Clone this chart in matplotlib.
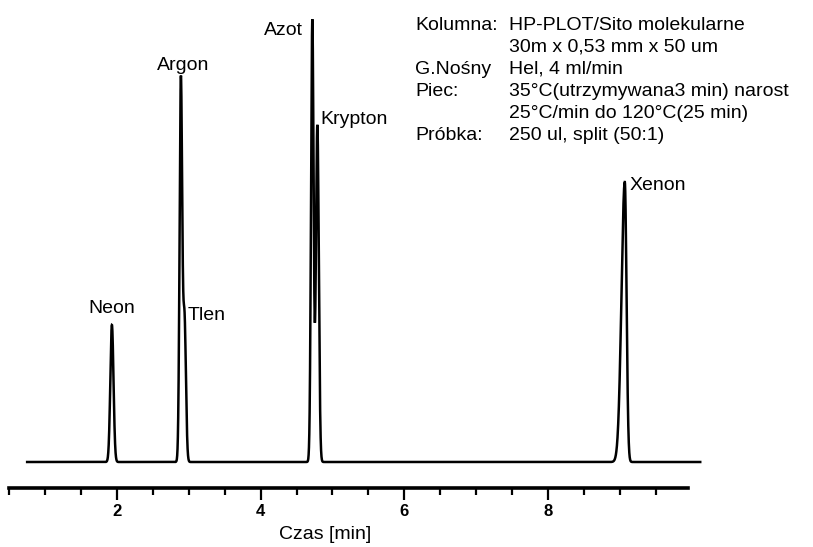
import numpy as np
import matplotlib
matplotlib.use("Agg")
import matplotlib.pyplot as plt
from matplotlib.ticker import FixedLocator

plt.rcParams["font.family"] = ["Liberation Sans", "DejaVu Sans"]

# Peaks (time in min, height in px above baseline)
peak_names = ["Neon", "Argon", "Tlen", "Azot", "Krypton", "Xenon"]
peak_times = [1.93, 2.89, 2.94, 4.72, 4.79, 9.07]
peak_heights = [137, 380, 144, 442, 337, 280]
peak_sigma_left = [0.022, 0.018, 0.02, 0.018, 0.020, 0.046]
peak_sigma_right = [0.022, 0.018, 0.02, 0.018, 0.020, 0.024]

run_start, run_end = 0.75, 10.12
major_ticks = [2, 4, 6, 8]
minor_ticks = [0.5, 1, 1.5, 2.5, 3, 3.5, 4.5, 5, 5.5, 6.5, 7, 7.5, 8.5, 9, 9.5]

info_keys = ["Kolumna:", "", "G.Nośny", "Piec:", "", "Próbka:"]
info_values = ["HP-PLOT/Sito molekularne", "30m x 0,53 mm x 50 um",
               "Hel, 4 ml/min", "35°C(utrzymywana3 min) narost",
               "25°C/min do 120°C(25 min)", "250 ul, split (50:1)"]

# label placement relative to apex (pixels), alignment
label_offsets = [(0, 12, "center"), (2, 12, "center"), (3, -2, "left"),
                 (-9, -15, "right"), (3, 1, "left"), (5, -8, "left")]


def signal(t):
    y = np.zeros_like(t)
    for t0, h, sl, sr in zip(peak_times, peak_heights, peak_sigma_left, peak_sigma_right):
        s = np.where(t < t0, sl, sr)
        y += h * np.exp(-0.5 * ((t - t0) / s) ** 2)
    return y


fig = plt.figure(figsize=(8.13, 5.47), dpi=100)
ax = fig.add_axes([0, 59 / 547, 1, 488 / 547])

t = np.linspace(run_start, run_end, 8000)
ax.plot(t, signal(t), color="black", lw=1.8, solid_joinstyle="miter")

ax.set_xlim(0.372, 11.69)
ax.set_ylim(-26, 462)

for sp in ["top", "right", "left"]:
    ax.spines[sp].set_visible(False)
ax.spines["bottom"].set_bounds(0.5, 9.95)
ax.spines["bottom"].set_linewidth(2.6)
ax.set_yticks([])

ax.xaxis.set_major_locator(FixedLocator(major_ticks))
ax.xaxis.set_minor_locator(FixedLocator(minor_ticks))
ax.tick_params(axis="x", which="major", length=8.5, width=1.6, pad=3,
               labelsize=12)
ax.tick_params(axis="x", which="minor", length=5, width=1.6)
for lab in ax.get_xticklabels():
    lab.set_fontweight("bold")

ax.set_xlabel("Czas [min]", fontsize=14)
ax.xaxis.set_label_coords(325 / 813, -38 / 488)

for name, t0, h, (dx, dy, ha) in zip(peak_names, peak_times, peak_heights, label_offsets):
    ax.annotate(name, (t0, h), xytext=(dx, dy), textcoords="offset pixels",
                ha=ha, va="baseline", fontsize=14)

for i, (k, v) in enumerate(zip(info_keys, info_values)):
    yb = 1 - (30 + 22 * i) / 547
    fig.text(415 / 813, yb, k, ha="left", va="baseline", fontsize=14)
    fig.text(509 / 813, yb, v, ha="left", va="baseline", fontsize=14)

fig.savefig("out.png", dpi=100)
